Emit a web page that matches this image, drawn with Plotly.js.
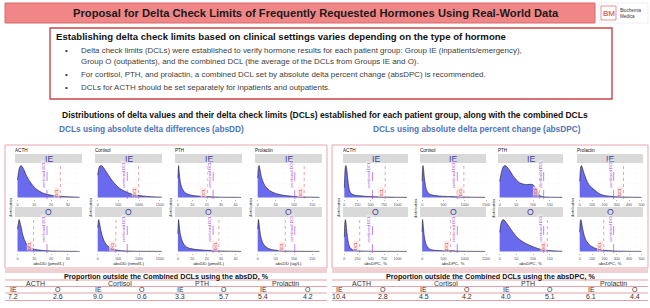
<!DOCTYPE html>
<html><head><meta charset="utf-8">
<script src="https://cdn.plot.ly/plotly-3.0.1.min.js"></script>
<style>html,body{margin:0;padding:0;background:#fff;}#chart{width:650px;height:308px;}</style>
</head><body><div id="chart"></div>
<script>
// ---------- DATA ----------
const hormones = ['ACTH','Cortisol','PTH','Prolactin'];
const groups = ['IE','O'];

// absDD densities (relative height)
const dd_ACTH_x = [0,1,2,3,4,5,6,8,10,12,15,18,20,25,30,35,37];
const dd_ACTH_IE = [0.55,0.9,1.0,0.95,0.85,0.72,0.62,0.45,0.32,0.23,0.14,0.09,0.07,0.04,0.02,0.01,0.005];
const dd_ACTH_O = [0.7,1.0,0.8,0.55,0.38,0.27,0.19,0.11,0.07,0.05,0.03,0.02,0.012,0.006,0.003,0.001,0.001];
const dd_Cortisol_x = [0,25,50,80,120,160,200,250,300,400,500,600,750,900,1000,1200,1400,1550];
const dd_Cortisol_IE = [0.7,0.9,0.98,1.0,0.97,0.9,0.82,0.72,0.62,0.45,0.32,0.23,0.14,0.08,0.06,0.03,0.015,0.008];
const dd_Cortisol_O = [0.75,1.0,0.85,0.65,0.45,0.32,0.23,0.16,0.11,0.06,0.035,0.02,0.012,0.007,0.005,0.003,0.002,0.001];
const dd_PTH_x = [0,0.5,1,1.5,2,3,4,5,6,8,10,12,15,20,25,30,35,40,44];
const dd_PTH_IE = [0.6,1.0,0.75,0.55,0.42,0.28,0.2,0.15,0.12,0.085,0.065,0.05,0.04,0.025,0.015,0.008,0.005,0.003,0.001];
const dd_PTH_O = [0.55,1.0,0.8,0.6,0.48,0.33,0.24,0.18,0.14,0.1,0.08,0.065,0.05,0.035,0.02,0.012,0.007,0.004,0.001];
const dd_Prolactin_x = [0,2,4,6,8,10,15,20,30,40,50,60,75,100,125,150,170];
const dd_Prolactin_IE = [0.6,0.95,1.0,0.9,0.78,0.66,0.48,0.37,0.24,0.17,0.12,0.09,0.06,0.03,0.015,0.007,0.003];
const dd_Prolactin_O = [0.7,1.0,0.85,0.65,0.5,0.4,0.25,0.17,0.09,0.055,0.035,0.022,0.012,0.005,0.002,0.001,0.001];

// absDPC densities (relative height)
const dpc_ACTH_x = [0,10,20,30,40,50,60,80,100,130,160,200,250,300,400,500,600,800,1000,1180];
const dpc_ACTH_IE = [0.3,0.75,0.97,1.0,0.95,0.82,0.65,0.38,0.2,0.12,0.09,0.07,0.06,0.05,0.035,0.025,0.018,0.01,0.005,0.002];
const dpc_ACTH_O = [0.45,0.9,1.0,0.92,0.75,0.58,0.44,0.25,0.14,0.08,0.05,0.03,0.02,0.014,0.008,0.005,0.003,0.001,0.001,0.0];
const dpc_Cortisol_x = [0,10,20,30,50,75,100,150,200,300,400,500,600,700,800,1000,1200,1480];
const dpc_Cortisol_IE = [0.5,0.9,1.0,0.92,0.65,0.4,0.25,0.13,0.09,0.06,0.045,0.035,0.03,0.025,0.02,0.012,0.006,0.002];
const dpc_Cortisol_O = [0.6,1.0,0.9,0.75,0.48,0.3,0.2,0.1,0.06,0.035,0.025,0.02,0.025,0.02,0.012,0.005,0.002,0.001];
const dpc_PTH_x = [0,5,10,15,20,30,40,50,60,70,80,90,100,110,120,130,150,170,188];
const dpc_PTH_IE = [0.5,0.78,0.95,1.0,0.98,0.85,0.68,0.55,0.46,0.42,0.4,0.41,0.4,0.25,0.06,0.02,0.008,0.004,0.002];
const dpc_PTH_O = [0.6,0.92,1.0,0.97,0.9,0.75,0.6,0.47,0.37,0.3,0.24,0.19,0.15,0.11,0.075,0.05,0.025,0.012,0.005];
const dpc_Prolactin_x = [0,5,10,15,20,30,40,50,60,75,100,125,150,175,200,250,300,400,500];
const dpc_Prolactin_IE = [0.5,0.85,0.98,1.0,0.95,0.82,0.7,0.6,0.5,0.4,0.3,0.22,0.14,0.09,0.06,0.035,0.02,0.008,0.003];
const dpc_Prolactin_O = [0.6,0.95,1.0,0.92,0.8,0.6,0.46,0.36,0.3,0.22,0.15,0.1,0.07,0.05,0.035,0.02,0.01,0.004,0.001];

// Delta check limits
const dd_DCL_IE = [25.6, 990, 20.5, 128];
const dd_DCL_O = [9.6, 440, 28.5, 76];
const dd_DCL_comb = [17.6, 715, 24.5, 102];
const dpc_DCL_IE = [770, 980, 120, 355];
const dpc_DCL_O = [290, 670, 143, 195];
const dpc_DCL_comb = [530, 825, 132, 275];

// axis labels
const dd_units = ['absDD (pmol/L)','absDD (nmol/L)','absDD (pmol/L)','absDD (ug/L)'];
const dpc_units = ['absDPC, %','absDPC, %','absDPC, %','absDPC, %'];
const dd_tickStep = [10,500,10,50];
const dpc_tickStep = [250,500,50,100];
const dd_xMin = [-1.5,-65,-2,-7.4];
const dd_xMax = [38.5,1556,44.6,177];
const dpc_xMin = [-25,-50,-5,-22];
const dpc_xMax = [1200,1500,190,513];

// table values (%)
const dd_pct_IE = [7.2, 9.0, 3.3, 5.4];
const dd_pct_O = [2.6, 0.6, 5.7, 4.2];
const dpc_pct_IE = [10.4, 4.5, 4.0, 6.1];
const dpc_pct_O = [2.8, 4.2, 5.1, 4.4];

const bulletLines = [
  'Delta check limits (DCLs) were established to verify hormone results for each patient group: Group IE (inpatients/emergency),',
  'Group O (outpatients), and the combined DCL (the average of the DCLs from Groups IE and O).',
  'For cortisol, PTH, and prolactin, a combined DCL set by absolute delta percent change (absDPC) is recommended.',
  'DCLs for ACTH should be set separately for inpatients and outpatients.'
];

// ---------- LAYOUT ----------
const W = 650, H = 308;
const FONT = 'Liberation Sans, Arial, sans-serif';
const px = v => v / W, py = v => 1 - v / H;
const traces = [];
const shapes = [];
const annotations = [];
const layout = {
  width: W, height: H, margin: {l:0,r:0,t:0,b:0},
  paper_bgcolor: '#ffffff', plot_bgcolor: '#ebebeb',
  showlegend: false, font: {family: FONT, color: '#222'},
  shapes: shapes, annotations: annotations
};
function txt(o) {
  annotations.push(Object.assign({xref:'paper', yref:'paper', showarrow:false, borderpad:0}, o));
}
function rect(x0,y0,x1,y1,fill,line,lw) {
  shapes.push({type:'rect', xref:'paper', yref:'paper', x0:px(x0), x1:px(x1), y0:py(y0), y1:py(y1),
    fillcolor: fill, line:{color: line || 'rgba(0,0,0,0)', width: lw || 0}, layer:'below'});
}
function hline(x0,x1,y,color,w) {
  shapes.push({type:'line', xref:'paper', yref:'paper', x0:px(x0), x1:px(x1), y0:py(y), y1:py(y), line:{color:color, width:w}});
}

// header
rect(5,3,595,23,'#f08686','#d86a6a',1);
txt({x:px(316), y:py(13), text:'<b>Proposal for Delta Check Limits of Frequently Requested Hormones Using Real-World Data</b>', font:{size:11.2, color:'#1a1a1a'}, xanchor:'center', yanchor:'middle'});
// logo
rect(599,3,648,23,'#ffffff','#dddddd',0.5);
rect(601,6,616,20,'#ffffff','#d05050',0.6);
txt({x:px(608.5), y:py(13), text:'BM', font:{size:8, color:'#c0392b'}, xanchor:'center', yanchor:'middle'});
txt({x:px(619), y:py(13), text:'Biochemia<br>Medica', font:{size:4.5, color:'#333'}, xanchor:'left', yanchor:'middle', align:'left'});

// info box
rect(50,28,612,99,'#ffffff','#c9454b',1.4);
txt({x:px(55), y:py(37), text:'<b>Establishing delta check limits based on clinical settings varies depending on the type of hormone</b>', font:{size:9.6, color:'#111'}, xanchor:'left', yanchor:'middle'});
const bulletY = [50, 61.5, 74.5, 87.5];
const bulletOn = [true, false, true, true];
bulletLines.forEach((t,i) => {
  if (bulletOn[i]) txt({x:px(66), y:py(bulletY[i]), text:'•', font:{size:8, color:'#333'}, xanchor:'center', yanchor:'middle'});
  txt({x:px(80), y:py(bulletY[i]), text:t, font:{size:7.95, color:'#404040'}, xanchor:'left', yanchor:'middle'});
});

// section titles
txt({x:px(325), y:py(115), text:'<b>Distributions of delta values and their delta check limits (DCLs) established for each patient group, along with the combined DCLs</b>', font:{size:8.5, color:'#111'}, xanchor:'center', yanchor:'middle'});
txt({x:px(151), y:py(129), text:'<b>DCLs using absolute delta differences (absDD)</b>', font:{size:8.3, color:'#4f74b8'}, xanchor:'center', yanchor:'middle'});
txt({x:px(477), y:py(129), text:'<b>DCLs using absolute delta percent change (absDPC)</b>', font:{size:8.3, color:'#4f74b8'}, xanchor:'center', yanchor:'middle'});

// plot boxes
rect(5,145,327,268,'#ffffff','#e7a9ad',1);
rect(332,145,648,268,'#ffffff','#e7a9ad',1);

const panels = [
  {cols:[[15,82],[95,162],[175,242],[255,322]],
   xs:[dd_ACTH_x,dd_Cortisol_x,dd_PTH_x,dd_Prolactin_x],
   IE:[dd_ACTH_IE,dd_Cortisol_IE,dd_PTH_IE,dd_Prolactin_IE],
   O:[dd_ACTH_O,dd_Cortisol_O,dd_PTH_O,dd_Prolactin_O],
   dIE:dd_DCL_IE, dO:dd_DCL_O, dC:dd_DCL_comb, units:dd_units, step:dd_tickStep, lo:dd_xMin, hi:dd_xMax},
  {cols:[[343,408],[420,486],[498,563],[577,643]],
   xs:[dpc_ACTH_x,dpc_Cortisol_x,dpc_PTH_x,dpc_Prolactin_x],
   IE:[dpc_ACTH_IE,dpc_Cortisol_IE,dpc_PTH_IE,dpc_Prolactin_IE],
   O:[dpc_ACTH_O,dpc_Cortisol_O,dpc_PTH_O,dpc_Prolactin_O],
   dIE:dpc_DCL_IE, dO:dpc_DCL_O, dC:dpc_DCL_comb, units:dpc_units, step:dpc_tickStep, lo:dpc_xMin, hi:dpc_xMax}
];
const rows = [[163,199],[217,253]];
const strips = [[154,163],[207,217]];
let k = 0;
panels.forEach(p => {
  p.cols.forEach((c,h) => {
    txt({x:px(c[0]-1), y:py(150), text:hormones[h], font:{size:4.6, color:'#111'}, xanchor:'left', yanchor:'middle'});
    txt({x:px(c[0]-5), y:py(208), text:'distribution', textangle:-90, font:{size:4, color:'#222'}, xanchor:'center', yanchor:'middle'});
    groups.forEach((g,gi) => {
      k++;
      const sfx = k === 1 ? '' : String(k);
      const xa = 'x' + sfx, ya = 'y' + sfx;
      layout['xaxis' + sfx] = {
        domain:[px(c[0]), px(c[1])], anchor: ya, range:[p.lo[h], p.hi[h]],
        tickmode:'linear', tick0:0, dtick:p.step[h],
        showgrid:true, gridcolor:'#ffffff', gridwidth:0.7, zeroline:false, showline:false,
        minor:{dtick:p.step[h]/2, showgrid:true, gridcolor:'#f6f6f6', gridwidth:0.35},
        ticks:'outside', ticklen:1.2, tickwidth:0.4, tickcolor:'#444',
        tickfont:{size:3.6, color:'#4d4d4d'}, fixedrange:true,
        title: gi === 1 ? {text:p.units[h], font:{size:4.4, color:'#222'}, standoff:1} : {text:''}
      };
      layout['yaxis' + sfx] = {
        domain:[py(rows[gi][1]), py(rows[gi][0])], anchor: xa, range:[-0.05, 1.08],
        tickmode:'linear', tick0:0, dtick:0.3, showticklabels:false, ticks:'',
        showgrid:true, gridcolor:'#ffffff', gridwidth:0.7, zeroline:false, showline:false,
        minor:{dtick:0.15, showgrid:true, gridcolor:'#f6f6f6', gridwidth:0.35}, fixedrange:true
      };
      traces.push({type:'scatter', mode:'lines', x:p.xs[h], y:(gi ? p.O : p.IE)[h], xaxis:xa, yaxis:ya,
        fill:'tozeroy', fillcolor:'#6a6aee', line:{color:'#1a1a1a', width:0.6, shape:'spline', smoothing:0.6},
        hoverinfo:'skip'});
      // strip
      rect(c[0], strips[gi][0], c[1], strips[gi][1], '#d9d9d9');
      txt({x:px((c[0]+c[1])/2), y:py((strips[gi][0]+strips[gi][1])/2 + 0.3), text:g, font:{size:8.6, color:'#3b3ba6'}, xanchor:'center', yanchor:'middle'});
      // DCL lines
      const own = gi ? p.dO[h] : p.dIE[h];
      const comb = p.dC[h];
      shapes.push({type:'line', xref:xa, yref:ya+' domain', x0:own, x1:own, y0:0, y1:1, line:{color:'#e06666', width:0.6, dash:'dot'}});
      shapes.push({type:'line', xref:xa, yref:ya+' domain', x0:comb, x1:comb, y0:0, y1:1, line:{color:'#a64ee6', width:0.7, dash:'dash'}});
      annotations.push({xref:xa, yref:ya+' domain', x:comb, y:0.68, text:'combined DCL', textangle:-90, showarrow:false,
        font:{size:4, color:'#9b3fd9'}, xanchor:'right', yanchor:'middle', bgcolor:'rgba(255,255,255,0.35)', borderpad:0});
      annotations.push({xref:xa, yref:ya+' domain', x:own, y:0.2, text:'DCL', textangle:-90, showarrow:false,
        font:{size:4, color:'#d93030'}, xanchor:'right', yanchor:'middle', bgcolor:'rgba(255,230,230,0.7)', borderpad:0});
    });
  });
});

// tables
const tables = [
  {x0:5, x1:327, title:'<b>Proportion outside the Combined DCLs using the absDD, %</b>', cx:166,
   pos:[13,58,98,142,180,224,263,308], IE:dd_pct_IE, O:dd_pct_O},
  {x0:332, x1:648, title:'<b>Proportion outside the Combined DCLs using the absDPC, %</b>', cx:490,
   pos:[339,383,424,467,506,550,591,635], IE:dpc_pct_IE, O:dpc_pct_O}
];
const lineCol = '#d98a90';
tables.forEach(t => {
  hline(t.x0, t.x1, 270, lineCol, 0.8);
  hline(t.x0, t.x1, 272, lineCol, 0.8);
  hline(t.x0, t.x1, 280, lineCol, 0.8);
  hline(t.x0, t.x1, 286.5, lineCol, 0.8);
  hline(t.x0, t.x1, 293, lineCol, 0.8);
  hline(t.x0, t.x1, 300.5, lineCol, 0.8);
  txt({x:px(t.cx), y:py(276), text:t.title, font:{size:7.2, color:'#111'}, xanchor:'center', yanchor:'middle'});
  hormones.forEach((hn,h) => {
    const a = t.pos[2*h], b = t.pos[2*h+1];
    txt({x:px((a+b)/2), y:py(283.3), text:hn, font:{size:7, color:'#333'}, xanchor:'center', yanchor:'middle'});
    txt({x:px(a), y:py(289.8), text:'IE', font:{size:7, color:'#333'}, xanchor:'center', yanchor:'middle'});
    txt({x:px(b), y:py(289.8), text:'O', font:{size:7, color:'#333'}, xanchor:'center', yanchor:'middle'});
    txt({x:px(a), y:py(296.8), text:t.IE[h].toFixed(1), font:{size:7, color:'#333'}, xanchor:'center', yanchor:'middle'});
    txt({x:px(b), y:py(296.8), text:t.O[h].toFixed(1), font:{size:7, color:'#333'}, xanchor:'center', yanchor:'middle'});
  });
});

Plotly.newPlot('chart', traces, layout, {staticPlot:true, displayModeBar:false});
</script>
</body></html>
